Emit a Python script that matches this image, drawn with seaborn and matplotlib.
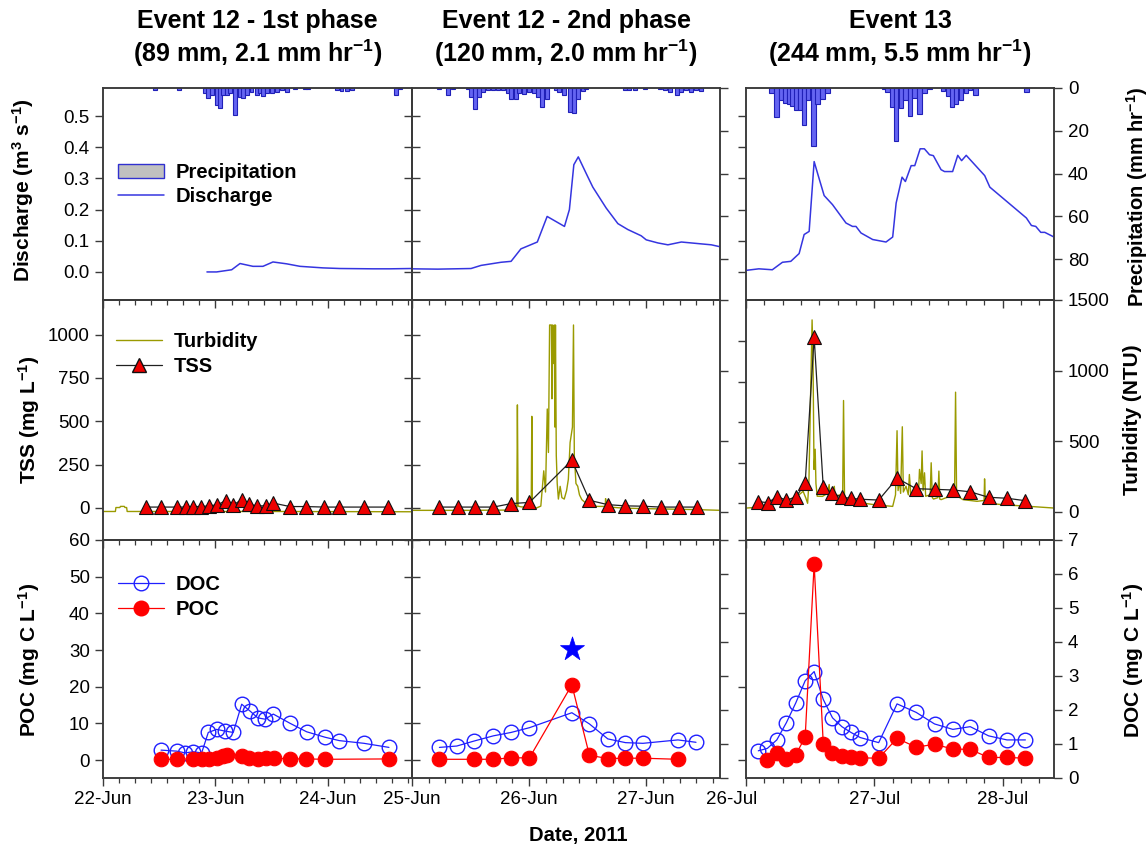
import matplotlib
matplotlib.use('Agg')
import matplotlib.pyplot as plt
import matplotlib.transforms as mtransforms
import seaborn as sns
from matplotlib.lines import Line2D
from matplotlib.patches import Patch
from matplotlib.ticker import MultipleLocator, FixedLocator, FormatStrFormatter

# ---------------- DATA (x = day of month, fractional) ----------------
# Precipitation (mm/hr)
P1_t = [22.462, 22.678, 22.907, 22.937, 22.966, 23.01, 23.04, 23.07, 23.10, 23.13, 23.176, 23.218, 23.247,
        23.277, 23.32, 23.366, 23.396, 23.425, 23.46, 23.50, 23.544, 23.588, 23.633, 23.707, 23.796, 23.825,
        24.077, 24.12, 24.166, 24.21, 24.604, 24.64]
P1_d = [1.0, 0.8, 2.5, 4.8, 3.3, 7.9, 9.5, 3.3, 3.3, 2.5, 12.6, 4.0, 4.8, 3.3, 1.7, 3.3, 2.2, 3.7, 2.5, 2.2,
        1.7, 0.9, 1.7, 0.6, 0.6, 0.6, 0.9, 1.2, 1.2, 0.9, 3.3, 0.6]
P2_t = [25.234, 25.305, 25.348, 25.476, 25.504, 25.541, 25.575, 25.604, 25.647, 25.69, 25.733, 25.775, 25.818,
        25.846, 25.889, 25.917, 25.96, 26.003, 26.045, 26.08, 26.111, 26.154, 26.231, 26.259, 26.302, 26.345,
        26.382, 26.416, 26.459, 26.487, 26.815, 26.857, 26.90, 26.986, 27.114, 27.157, 27.20, 27.262, 27.30,
        27.342, 27.385, 27.427, 27.47]
P2_d = [0.6, 3.3, 0.6, 0.6, 4.3, 9.8, 4.0, 1.7, 0.9, 0.9, 0.9, 0.9, 2.2, 5.3, 5.3, 2.2, 2.8, 1.7, 2.5, 4.0,
        9.0, 5.1, 0.9, 1.7, 3.3, 11.0, 11.5, 5.3, 1.2, 0.6, 0.9, 0.9, 0.9, 0.6, 0.6, 0.9, 1.7, 3.3, 1.7, 0.9,
        1.7, 0.9, 1.2]
P3_t = [26.2, 26.237, 26.271, 26.305, 26.336, 26.362, 26.388, 26.42, 26.453, 26.484, 26.526, 26.557, 26.596,
        26.635, 27.078, 27.104, 27.136, 27.169, 27.208, 27.242, 27.279, 27.312, 27.352, 27.39, 27.43, 27.534,
        27.573, 27.607, 27.638, 27.677, 27.716, 27.747, 27.787, 28.185]
P3_d = [2.3, 13.5, 5.8, 7.0, 7.3, 8.2, 10.4, 10.4, 17.4, 5.4, 27.2, 7.3, 5.1, 2.3, 0.5, 2.0, 8.9, 24.8, 9.3,
        5.4, 12.9, 4.7, 12.0, 2.3, 0.5, 1.3, 3.6, 8.9, 7.3, 5.8, 2.3, 1.1, 3.1, 1.9]

# Discharge (m3/s)
Q1_t = [22.924, 23.01, 23.144, 23.218, 23.333, 23.422, 23.511, 23.633, 23.751, 23.956, 24.107, 24.40, 24.55, 24.744]
Q1_v = [0.0, 0.0, 0.007, 0.027, 0.018, 0.018, 0.032, 0.026, 0.018, 0.013, 0.011, 0.01, 0.01, 0.011]
Q2_t = [25.0, 25.22, 25.504, 25.59, 25.76, 25.846, 25.93, 26.0, 26.07, 26.154, 26.302, 26.344, 26.382, 26.42,
        26.5, 26.544, 26.658, 26.758, 26.843, 26.957, 27.0, 27.1, 27.185, 27.3, 27.385, 27.47, 27.556, 27.64]
Q2_v = [0.01, 0.009, 0.011, 0.021, 0.031, 0.034, 0.074, 0.085, 0.096, 0.178, 0.146, 0.2, 0.344, 0.369, 0.306,
        0.272, 0.205, 0.155, 0.136, 0.116, 0.103, 0.093, 0.087, 0.096, 0.093, 0.09, 0.087, 0.08]
Q3_t = [26.0, 26.10, 26.205, 26.284, 26.349, 26.414, 26.453, 26.492, 26.531, 26.565, 26.609, 26.674, 26.779,
        26.83, 26.857, 26.896, 26.987, 27.091, 27.143, 27.17, 27.216, 27.242, 27.287, 27.315, 27.357, 27.39,
        27.43, 27.46, 27.52, 27.547, 27.61, 27.65, 27.68, 27.716, 27.86, 27.9, 28.185, 28.224, 28.258, 28.297,
        28.328, 28.40]
Q3_v = [0.005, 0.01, 0.007, 0.031, 0.034, 0.059, 0.12, 0.13, 0.354, 0.306, 0.245, 0.216, 0.157, 0.146, 0.146,
        0.125, 0.104, 0.096, 0.112, 0.221, 0.304, 0.29, 0.341, 0.341, 0.395, 0.395, 0.376, 0.373, 0.328, 0.322,
        0.322, 0.374, 0.357, 0.374, 0.309, 0.272, 0.173, 0.149, 0.146, 0.127, 0.127, 0.112]

# Turbidity (NTU)
T1_t = [22.0, 22.11, 22.115, 22.15, 22.155, 22.19, 22.195, 22.21, 22.215, 23.5, 24.75]
T1_v = [2, 2, 30, 30, 38, 38, 30, 30, 2, 2, 0]
T2_t = [25.0, 25.5, 25.80, 25.818, 25.895, 25.900, 25.906, 25.93, 26.0, 26.018, 26.023, 26.028, 26.06, 26.10,
        26.125, 26.14, 26.155, 26.165, 26.175, 26.19, 26.195, 26.20, 26.21, 26.215, 26.22, 26.225, 26.232,
        26.24, 26.25, 26.265, 26.28, 26.30, 26.32, 26.335, 26.35, 26.37, 26.379, 26.386, 26.40, 26.415, 26.43,
        26.45, 26.50, 26.58, 26.65, 26.653, 26.66, 26.80, 27.0, 27.44, 27.64]
T2_v = [10, 10, 12, 26, 30, 757, 40, 35, 30, 30, 676, 30, 26, 40, 290, 140, 728, 420, 1323, 1323, 800, 1323,
        1050, 1323, 600, 1323, 400, 200, 90, 180, 100, 90, 150, 230, 490, 600, 1323, 400, 200, 181, 120, 86, 50,
        38, 38, 93, 35, 26, 22, 15, 10]
T3_t = [26.0, 26.10, 26.18, 26.258, 26.336, 26.414, 26.445, 26.466, 26.48, 26.49, 26.505, 26.515, 26.522, 26.53,
        26.539, 26.545, 26.555, 26.596, 26.635, 26.648, 26.655, 26.688, 26.695, 26.727, 26.753, 26.76, 26.768,
        26.80, 26.909, 27.0, 27.143, 27.165, 27.177, 27.185, 27.195, 27.205, 27.218, 27.226, 27.247, 27.265,
        27.273, 27.285, 27.299, 27.345, 27.352, 27.365, 27.372, 27.38, 27.391, 27.40, 27.435, 27.443, 27.452,
        27.461, 27.495, 27.503, 27.51, 27.521, 27.586, 27.625, 27.633, 27.641, 27.651, 27.69, 27.80, 27.855,
        27.859, 27.865, 27.872, 28.0, 28.211, 28.406]
T3_v = [26, 33, 57, 74, 86, 121, 145, 98, 60, 200, 900, 1359, 1100, 300, 443, 200, 110, 109, 130, 193, 110, 180,
        100, 120, 90, 788, 90, 74, 62, 50, 38, 120, 574, 150, 228, 130, 602, 140, 181, 120, 264, 110, 109, 150,
        300, 200, 431, 150, 276, 110, 120, 347, 100, 90, 100, 288, 90, 86, 109, 120, 847, 120, 109, 86, 74, 80,
        233, 80, 62, 50, 38, 26]

# TSS (mg/L)
S1_t = [22.382, 22.516, 22.66, 22.735, 22.803, 22.871, 22.942, 23.016, 23.09, 23.16, 23.233, 23.30, 23.372,
        23.446, 23.514, 23.662, 23.804, 23.967, 24.10, 24.32, 24.536]
S1_v = [5, 5, 5, 5, 8, 8, 12, 18, 42, 18, 48, 20, 12, 12, 28, 8, 8, 5, 5, 5, 5]
S2_t = [25.234, 25.39, 25.541, 25.695, 25.846, 26.003, 26.365, 26.515, 26.672, 26.823, 26.971, 27.122, 27.279, 27.433]
S2_v = [5, 5, 5, 5, 25, 32, 275, 44, 19, 12, 10, 5, 5, 5]
S3_t = [26.096, 26.172, 26.24, 26.315, 26.388, 26.461, 26.531, 26.602, 26.674, 26.747, 26.818, 26.89, 27.034,
        27.177, 27.326, 27.469, 27.612, 27.747, 27.89, 28.034, 28.177]
S3_v = [10, 4, 41, 20, 37, 123, 1022, 99, 62, 37, 31, 25, 20, 154, 90, 86, 82, 71, 37, 31, 16]

# DOC (mg C/L)
D1_t = [22.516, 22.655, 22.729, 22.803, 22.877, 22.936, 23.01, 23.084, 23.158, 23.233, 23.307, 23.375, 23.44,
        23.514, 23.662, 23.81, 23.973, 24.10, 24.32, 24.542]
D1_v = [0.82, 0.79, 0.74, 0.77, 0.74, 1.34, 1.43, 1.38, 1.34, 2.17, 1.97, 1.77, 1.73, 1.88, 1.61, 1.36, 1.20,
        1.10, 1.02, 0.90]
D2_t = [25.234, 25.382, 25.533, 25.695, 25.846, 26.003, 26.365, 26.515, 26.672, 26.823, 26.972, 27.271, 27.425]
D2_v = [0.90, 0.94, 1.09, 1.24, 1.34, 1.48, 1.92, 1.59, 1.15, 1.04, 1.02, 1.12, 1.05]
D3_t = [26.096, 26.166, 26.24, 26.315, 26.388, 26.461, 26.531, 26.602, 26.674, 26.747, 26.818, 26.89, 27.034,
        27.177, 27.326, 27.469, 27.612, 27.747, 27.89, 28.034, 28.177]
D3_v = [0.80, 0.87, 1.12, 1.63, 2.21, 2.86, 3.13, 2.31, 1.77, 1.51, 1.34, 1.19, 1.04, 2.18, 1.93, 1.59, 1.43,
        1.51, 1.24, 1.12, 1.12]

# POC (mg C/L)
C1_t = [22.516, 22.661, 22.803, 22.877, 22.945, 23.01, 23.064, 23.099, 23.233, 23.301, 23.375, 23.446, 23.52,
        23.662, 23.804, 23.973, 24.542]
C1_v = [0.2, 0.2, 0.3, 0.3, 0.4, 0.5, 1.0, 1.5, 1.2, 0.6, 0.4, 0.5, 0.5, 0.3, 0.3, 0.2, 0.3]
C2_t = [25.234, 25.533, 25.695, 25.846, 26.003, 26.365, 26.515, 26.672, 26.823, 26.972, 27.271]
C2_v = [0.2, 0.2, 0.2, 0.6, 0.6, 20.5, 1.3, 0.4, 0.5, 0.5, 0.2]
C3_t = [26.166, 26.24, 26.315, 26.388, 26.461, 26.531, 26.602, 26.674, 26.747, 26.818, 26.89, 27.034, 27.177,
        27.326, 27.469, 27.612, 27.747, 27.89, 28.034, 28.177]
C3_v = [0.0, 1.8, 0.2, 1.5, 6.2, 53.4, 4.5, 2.0, 1.1, 0.7, 0.6, 0.5, 5.9, 3.5, 4.3, 3.0, 2.9, 0.7, 0.7, 0.5]

STAR_T = [26.365]
STAR_V = [30.3]

# Axis ticks / labels
XTICKS = [[22, 23, 24], [25, 26, 27], [26, 27, 28]]
XLABELS = [['22-Jun', '23-Jun', '24-Jun'], ['25-Jun', '26-Jun', '27-Jun'], ['26-Jul', '27-Jul', '28-Jul']]
XLIM = [(22.0, 24.747), (25.0, 27.63), (26.0, 28.40)]
TITLES = [('Event 12 - 1st phase', '(89 mm, 2.1 mm hr$^{-1}$)'),
          ('Event 12 - 2nd phase', '(120 mm, 2.0 mm hr$^{-1}$)'),
          ('Event 13', '(244 mm, 5.5 mm hr$^{-1}$)')]
Q_TICKS = [0.0, 0.1, 0.2, 0.3, 0.4, 0.5]
P_TICKS = [0, 20, 40, 60, 80]
S_TICKS = [0, 250, 500, 750, 1000]
T_TICKS = [0, 500, 1000, 1500]
C_TICKS = [[0, 10, 20, 30, 40, 50, 60], [0, 10, 20, 30, 40, 50, 60], [0, 20, 40, 60]]
D_TICKS = [0, 1, 2, 3, 4, 5, 6, 7]

P_T = [P1_t, P2_t, P3_t]; P_D = [P1_d, P2_d, P3_d]
Q_T = [Q1_t, Q2_t, Q3_t]; Q_V = [Q1_v, Q2_v, Q3_v]
T_T = [T1_t, T2_t, T3_t]; T_V = [T1_v, T2_v, T3_v]
S_T = [S1_t, S2_t, S3_t]; S_V = [S1_v, S2_v, S3_v]
D_T = [D1_t, D2_t, D3_t]; D_V = [D1_v, D2_v, D3_v]
C_T = [C1_t, C2_t, C3_t]; C_V = [C1_v, C2_v, C3_v]

# ---------------- STYLE ----------------
sns.set_theme(style='ticks')
plt.rcParams['font.family'] = ['Liberation Sans', 'DejaVu Sans']
plt.rcParams['mathtext.fontset'] = 'custom'
plt.rcParams['mathtext.rm'] = 'Liberation Sans'
plt.rcParams['mathtext.bf'] = 'Liberation Sans:bold'
plt.rcParams['mathtext.default'] = 'bf'
plt.rcParams['axes.edgecolor'] = '#3a3a3a'
plt.rcParams['axes.linewidth'] = 1.1
plt.rcParams['xtick.color'] = '#3a3a3a'
plt.rcParams['ytick.color'] = '#3a3a3a'
plt.rcParams['xtick.labelcolor'] = 'black'
plt.rcParams['ytick.labelcolor'] = 'black'
plt.rcParams['text.color'] = 'black'

Q_COLOR = '#3535e0'
P_FACE = '#6464f2'
P_EDGE = '#2020b8'
T_COLOR = '#9a9a00'
DOC_COLOR = '#1f1fff'
POC_COLOR = '#ff0000'

W, H = 1148, 852
COLS = [(103, 412), (412, 720), (746, 1054)]
ROWS = [(88, 300), (300, 540), (540, 778)]


def rect(c, r):
    x0, x1 = COLS[c]
    y0, y1 = ROWS[r]
    return [x0 / W, 1 - y1 / H, (x1 - x0) / W, (y1 - y0) / H]


fig = plt.figure(figsize=(11.48, 8.52), dpi=100)
TICK_FS = 13.5


def style_axes(ax, tw, c, r):
    ax.set_xlim(XLIM[c])
    ax.xaxis.set_major_locator(FixedLocator(XTICKS[c]))
    ax.xaxis.set_minor_locator(MultipleLocator(1 / 7))
    ax.tick_params(axis='x', which='major', direction='out', length=6, width=1.0,
                   labelsize=TICK_FS, bottom=True, top=False)
    ax.tick_params(axis='x', which='minor', direction='out', length=3.5, width=0.9,
                   bottom=True, top=False)
    if r == 2:
        ax.set_xticks(XTICKS[c], XLABELS[c])
    else:
        ax.tick_params(axis='x', labelbottom=False)
    if c == 0:
        ax.tick_params(axis='y', direction='out', length=6, width=1.0, labelsize=TICK_FS,
                       left=True, labelleft=True)
    elif c == 1:
        ax.tick_params(axis='y', direction='inout', length=12, width=1.0, labelleft=False)
    else:
        ax.tick_params(axis='y', direction='out', length=6, width=1.0, labelleft=False)
    if c == 0:
        tw.tick_params(axis='y', right=False, labelright=False)
    elif c == 1:
        tw.tick_params(axis='y', direction='out', length=6, width=1.0, labelright=False)
    else:
        tw.tick_params(axis='y', direction='out', length=6, width=1.0, labelright=True,
                       labelsize=TICK_FS, pad=4)
    ax.set_xlabel('')
    ax.set_ylabel('')
    tw.set_ylabel('')
    ax.set_zorder(tw.get_zorder() + 1)
    ax.patch.set_visible(False)


legend_kw = dict(loc='upper left', frameon=False, prop={'weight': 'bold', 'size': 14.5},
                 handlelength=2.3, handletextpad=0.55, labelspacing=0.28, borderpad=0,
                 borderaxespad=0)

for c in range(3):
    # ---- Row 0: discharge & precipitation ----
    ax = fig.add_axes(rect(c, 0))
    tw = ax.twinx()
    tw.bar(P_T[c], P_D[c], width=0.034, color=P_FACE, edgecolor=P_EDGE, linewidth=0.8)
    sns.lineplot(x=Q_T[c], y=Q_V[c], ax=ax, color=Q_COLOR, linewidth=1.1,
                 estimator=None, sort=False, legend=False)
    ax.set_ylim(-0.09, 0.59)
    ax.set_yticks(Q_TICKS)
    ax.yaxis.set_major_formatter(FormatStrFormatter('%.1f'))
    tw.set_ylim(99, 0)
    tw.set_yticks(P_TICKS)
    style_axes(ax, tw, c, 0)
    if c == 0:
        handles = [Patch(facecolor='#c0c0c0', edgecolor='#3030d0', linewidth=1.0, label='Precipitation'),
                   Line2D([], [], color=Q_COLOR, lw=1.1, label='Discharge')]
        ax.legend(handles=handles, bbox_to_anchor=(0.049, 0.648), **legend_kw)

    # ---- Row 1: TSS & turbidity ----
    ax = fig.add_axes(rect(c, 1))
    tw = ax.twinx()
    sns.lineplot(x=T_T[c], y=T_V[c], ax=tw, color=T_COLOR, linewidth=1.0,
                 estimator=None, sort=False, legend=False)
    sns.lineplot(x=S_T[c], y=S_V[c], ax=ax, color='#202020', linewidth=0.9,
                 marker='^', markersize=10, markerfacecolor='#ee0000', markeredgecolor='#101010',
                 markeredgewidth=0.8, estimator=None, sort=False, legend=False)
    if c == 2:
        ax.set_ylim(-226, 1252)
    else:
        ax.set_ylim(-185, 1200)
    ax.set_yticks(S_TICKS)
    tw.set_ylim(-200, 1500)
    tw.set_yticks(T_TICKS)
    style_axes(ax, tw, c, 1)
    if c == 0:
        handles = [Line2D([], [], color=T_COLOR, lw=1.0, label='Turbidity'),
                   Line2D([], [], color='#202020', lw=0.9, marker='^', markersize=10,
                          markerfacecolor='#ee0000', markeredgecolor='#101010', label='TSS')]
        ax.legend(handles=handles, bbox_to_anchor=(0.042, 0.865), **legend_kw)

    # ---- Row 2: POC & DOC ----
    ax = fig.add_axes(rect(c, 2))
    tw = ax.twinx()
    sns.lineplot(x=D_T[c], y=D_V[c], ax=tw, color=DOC_COLOR, linewidth=0.9,
                 marker='o', markersize=10.5, markerfacecolor='none', markeredgecolor=DOC_COLOR,
                 markeredgewidth=1.0, estimator=None, sort=False, legend=False)
    sns.lineplot(x=C_T[c], y=C_V[c], ax=ax, color=POC_COLOR, linewidth=0.9,
                 marker='o', markersize=10.5, markerfacecolor=POC_COLOR, markeredgecolor=POC_COLOR,
                 markeredgewidth=0.8, estimator=None, sort=False, legend=False)
    if c == 1:
        sns.scatterplot(x=STAR_T, y=STAR_V, ax=ax, marker='*', s=330, color='#0000ff',
                        edgecolor='#0000ff', linewidth=0.5, legend=False)
    ax.set_ylim(-4.9, 60)
    ax.set_yticks(C_TICKS[c])
    tw.set_ylim(0, 7)
    tw.set_yticks(D_TICKS)
    style_axes(ax, tw, c, 2)
    if c == 2:
        offset = mtransforms.ScaledTranslation(-14 / 100, 0, fig.dpi_scale_trans)
        lbl = ax.get_xticklabels()[0]
        lbl.set_transform(lbl.get_transform() + offset)
    if c == 0:
        handles = [Line2D([], [], color=DOC_COLOR, lw=0.9, marker='o', markersize=10.5,
                          markerfacecolor='none', markeredgecolor=DOC_COLOR, label='DOC'),
                   Line2D([], [], color=POC_COLOR, lw=0.9, marker='o', markersize=10.5,
                          markerfacecolor=POC_COLOR, markeredgecolor=POC_COLOR, label='POC')]
        ax.legend(handles=handles, bbox_to_anchor=(0.049, 0.852), **legend_kw)

# ---------------- TEXT ----------------
for c in range(3):
    xc = (COLS[c][0] + COLS[c][1]) / 2 / W
    fig.text(xc, 1 - 21 / H, TITLES[c][0], ha='center', va='center', fontsize=18, fontweight='bold')
    fig.text(xc, 1 - 53 / H, TITLES[c][1], ha='center', va='center', fontsize=18, fontweight='bold')

LAB_FS = 15
fig.text(23 / W, 1 - 190 / H, 'Discharge (m$^3$ s$^{-1}$)', rotation=90, ha='center', va='center',
         fontsize=LAB_FS, fontweight='bold')
fig.text(29 / W, 1 - 420 / H, 'TSS (mg L$^{-1}$)', rotation=90, ha='center', va='center',
         fontsize=LAB_FS, fontweight='bold')
fig.text(29 / W, 1 - 660 / H, 'POC (mg C L$^{-1}$)', rotation=90, ha='center', va='center',
         fontsize=LAB_FS, fontweight='bold')
fig.text(1137 / W, 1 - 197 / H, 'Precipitation (mm hr$^{-1}$)', rotation=90, ha='center', va='center',
         fontsize=14.5, fontweight='bold')
fig.text(1133 / W, 1 - 420 / H, 'Turbidity (NTU)', rotation=90, ha='center', va='center',
         fontsize=LAB_FS, fontweight='bold')
fig.text(1133 / W, 1 - 660 / H, 'DOC (mg C L$^{-1}$)', rotation=90, ha='center', va='center',
         fontsize=LAB_FS, fontweight='bold')
fig.text(578 / W, 1 - 836 / H, 'Date, 2011', ha='center', va='center', fontsize=14.5, fontweight='bold')

fig.savefig('out.png', dpi=100)
